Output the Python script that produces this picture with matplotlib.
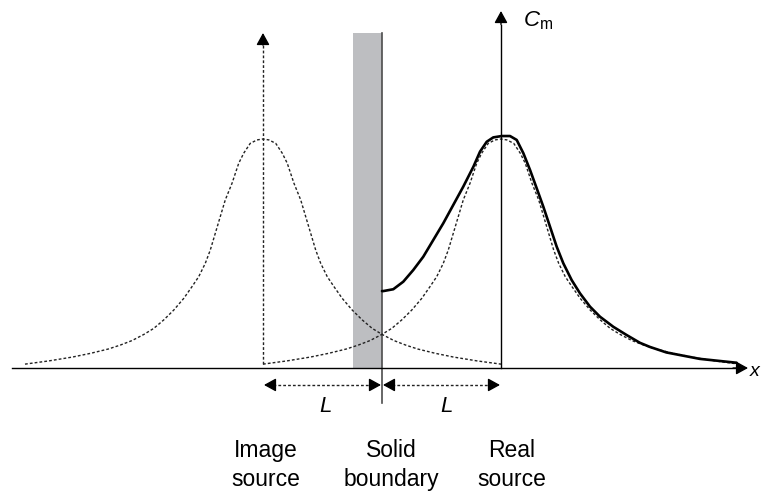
import numpy as np
import matplotlib
matplotlib.use('Agg')
import matplotlib.pyplot as plt

plt.rcParams['font.family'] = ['Liberation Sans', 'DejaVu Sans']
plt.rcParams['mathtext.fontset'] = 'custom'
plt.rcParams['mathtext.rm'] = 'Liberation Sans'
plt.rcParams['mathtext.it'] = 'Liberation Sans:italic'

# Concentration profile of one source, distance from source (in L) vs C/Cmax
profile_dx = [0.0, 0.05, 0.107, 0.162, 0.204, 0.26, 0.317, 0.359, 0.401, 0.443,
              0.485, 0.54, 0.597, 0.666, 0.75, 0.834, 0.918, 1.0, 1.1, 1.2,
              1.3, 1.45, 1.6, 1.8, 2.0]
profile_c = [1.0, 0.996, 0.981, 0.938, 0.894, 0.807, 0.734, 0.661, 0.588, 0.515,
             0.457, 0.399, 0.355, 0.304, 0.253, 0.210, 0.173, 0.147, 0.120, 0.100,
             0.083, 0.064, 0.048, 0.031, 0.017]

# Resulting concentration (solid curve), x measured from the wall
solid_x = [0.0, 0.011, 0.095, 0.179, 0.263, 0.347, 0.431, 0.515, 0.599, 0.683,
           0.768, 0.824, 0.880, 0.935, 1.006, 1.076, 1.132, 1.188, 1.244, 1.300,
           1.356, 1.412, 1.468, 1.524, 1.594, 1.664, 1.748, 1.832, 1.944, 2.056,
           2.168, 2.252, 2.39, 2.67, 2.98]
solid_c = [0.336, 0.336, 0.344, 0.377, 0.428, 0.486, 0.559, 0.632, 0.712, 0.792,
           0.879, 0.945, 0.988, 1.007, 1.013, 1.013, 0.996, 0.938, 0.865, 0.785,
           0.704, 0.617, 0.530, 0.457, 0.384, 0.326, 0.268, 0.224, 0.180, 0.144,
           0.110, 0.092, 0.068, 0.040, 0.023]

labels = [('Image', 'source'), ('Solid', 'boundary'), ('Real', 'source')]
label_x = [-0.975, 0.076, 1.093]

x_img = -1.0
x_real = 1.0

fig = plt.figure(figsize=(7.61, 4.91), dpi=100)
ax = fig.add_axes([0, 0, 1, 1])
ax.set_xlim(-3.210, 3.185)
ax.set_ylim(-0.537, 1.607)
ax.axis('off')

dash = (0, (2.0, 1.5))
px = 1 / 119.0   # one pixel in x data units


def head(x0, y0, x1, y1):
    # filled arrow head pointing from (x0,y0) to (x1,y1)
    ax.annotate('', xy=(x1, y1), xytext=(x0, y0),
                arrowprops=dict(arrowstyle='-|>,head_length=0.4,head_width=0.22',
                                mutation_scale=18, lw=1.0, color='black',
                                shrinkA=0, shrinkB=0), zorder=6)


# wall
ax.fill_between([-0.244, 0.0], 0, 1.464, color='#bdbec1', lw=0, zorder=1)
ax.plot([0, 0], [-0.153, 1.464], color='#4d4d4d', lw=1.2, zorder=2)

# image and real source profiles
dx = np.array(profile_dx)
c = np.array(profile_c)
full_dx = np.concatenate([-dx[::-1], dx[1:]])
full_c = np.concatenate([c[::-1], c[1:]])
ax.plot(x_img + full_dx, full_c, color='#222222', lw=1.0, ls=dash, zorder=3)
ax.plot(x_real + full_dx, full_c, color='#222222', lw=1.0, ls=dash, zorder=3)

# total concentration
ax.plot(solid_x, solid_c, color='black', lw=1.9, zorder=5,
        solid_capstyle='round', solid_joinstyle='round')

# x axis
ax.plot([-3.11, 3.0], [0, 0], color='black', lw=1.0, zorder=4)
head(2.95, 0, 3.076, 0)
ax.text(3.09, -0.035, 'x', fontsize=14, style='italic', va='baseline')

# Cm axis at the real source
ax.plot([x_real, x_real], [0, 1.50], color='black', lw=1.0, zorder=4)
head(x_real, 1.50, x_real, 1.559)
ax.text(1.185, 1.493, r'$C_{\mathrm{m}}$', fontsize=16, va='baseline')

# dashed axis at image source
ax.plot([x_img, x_img], [0.017, 1.41], color='#222222', lw=1.0, ls=dash, zorder=4)
head(x_img, 1.41, x_img, 1.463)

# distance arrows
ya = -0.074
for a, b in [(x_img, 0.0), (0.0, x_real)]:
    ax.plot([a + 10 * px, b - 10 * px], [ya, ya], color='#222222',
            lw=1.0, ls=dash, zorder=4)
    head(a + 10 * px, ya, a + 1 * px, ya)
    head(b - 10 * px, ya, b - 1 * px, ya)
ax.text(-0.471, -0.192, 'L', fontsize=16, style='italic', ha='center', va='baseline')
ax.text(0.542, -0.192, 'L', fontsize=16, style='italic', ha='center', va='baseline')

# bottom labels
for (l1, l2), xl in zip(labels, label_x):
    ax.text(xl, -0.389, l1, fontsize=16.5, ha='center', va='baseline')
    ax.text(xl, -0.515, l2, fontsize=16.5, ha='center', va='baseline')

fig.savefig('out.png', dpi=100)
